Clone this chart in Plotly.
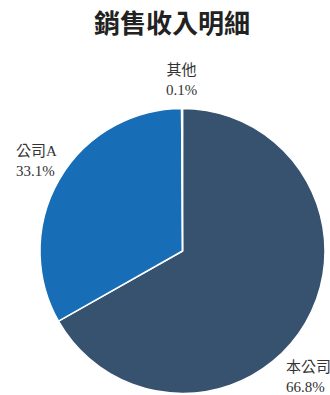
import math
import plotly.graph_objects as go

labels = ["本公司", "公司A", "其他"]
values = [66.8, 33.1, 0.1]
colors = ["#37526f", "#176eb6", "#37526f"]

W, H = 330, 395
cx, cy, r = 182.5, 251, 142.5
label_gap = 20
# per-label nudges (px) to mimic the reference label layout
label_shift = [(-39, -44), (-28, 9), (0, 9)]

fig = go.Figure(go.Pie(
    labels=labels,
    values=values,
    sort=False,
    direction="clockwise",
    rotation=0,
    marker=dict(colors=colors, line=dict(color="white", width=1.5)),
    textinfo="none",
    domain=dict(x=[(cx - r) / W, (cx + r) / W], y=[(H - cy - r) / H, (H - cy + r) / H]),
    showlegend=False,
    hoverinfo="label+percent",
))

total = sum(values)
cum = 0.0
annotations = []
for lab, v, (dx, dy) in zip(labels, values, label_shift):
    mid = (cum + v / 2) / total * 2 * math.pi
    cum += v
    px = cx + (r + label_gap) * math.sin(mid)
    py = cy - (r + label_gap) * math.cos(mid)
    if abs(math.sin(mid)) < 0.05:
        xa, al = "center", "center"
    else:
        xa, al = "left", "left"
    annotations.append(dict(
        x=px / W, y=1 - py / H, xref="paper", yref="paper",
        xanchor=xa, yanchor="middle", align=al,
        xshift=dx, yshift=dy, showarrow=False,
        text=f"{lab}<br>{v / total * 100:.1f}%",
        font=dict(family="Liberation Serif, Noto Sans CJK TC", size=15, color="#333333"),
    ))

fig.update_layout(
    width=W, height=H,
    margin=dict(l=0, r=0, t=0, b=0),
    paper_bgcolor="white",
    annotations=annotations,
    title=dict(text="<b>銷售收入明細</b>", x=172 / W, xanchor="center", y=1 - 24 / H, yanchor="middle",
               font=dict(family="Noto Sans CJK TC", size=26, color="#222222")),
)

fig.write_html("out.html")
